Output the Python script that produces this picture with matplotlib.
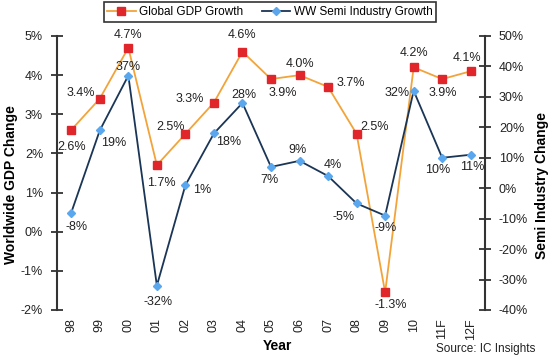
import numpy as np
import matplotlib.pyplot as plt

plt.rcParams['font.family'] = ['Liberation Sans', 'DejaVu Sans']

years = ['98', '99', '00', '01', '02', '03', '04', '05', '06', '07', '08', '09', '10', '11F', '12F']
gdp = [2.6, 3.4, 4.7, 1.7, 2.5, 3.3, 4.6, 3.9, 4.0, 3.7, 2.5, -1.55, 4.2, 3.9, 4.1]
gdp_labels = ['2.6%', '3.4%', '4.7%', '1.7%', '2.5%', '3.3%', '4.6%', '3.9%', '4.0%', '3.7%',
              '2.5%', '-1.3%', '4.2%', '3.9%', '4.1%']
semi = [-8, 19, 37, -32, 1, 18, 28, 7, 9, 4, -5, -9, 32, 10, 11]

# label offsets in pixels (dx, dy) from each point
gdp_off = [(0, -17), (-19, 6), (0, 13), (5, -18), (-15, 7), (-24, 4), (0, 17), (12, -14),
           (0, 11), (23, 4), (18, 7), (6, -13), (0, 14), (1, -14), (-4, 13)]
semi_off = [(5, -14), (14, -13), (0, 9), (1, -16), (17, -5), (15, -9), (1, 8), (-2, -13),
            (-2, 11), (5, 11), (-13, -14), (0, -12), (-17, -2), (-5, -12), (2, -12)]

x = np.arange(len(years))

fig = plt.figure(figsize=(5.5, 3.58), dpi=100)
ax = fig.add_axes([57 / 550, 48 / 358, 428 / 550, 274 / 358])
ax2 = ax.twinx()

l1, = ax.plot(x, gdp, color='#F2A43A', lw=1.3, marker='s', ms=5.5,
              mfc='#E0262B', mec='#E0262B', label='Global GDP Growth')
l2, = ax2.plot(x, semi, color='#1A3556', lw=1.3, marker='D', ms=4.5,
               mfc='#5AA7EE', mec='#5AA7EE', label='WW Semi Industry Growth')

for i in range(len(x)):
    ax.annotate(gdp_labels[i], (x[i], gdp[i]), xytext=gdp_off[i], textcoords='offset pixels',
                ha='center', va='center', fontsize=9, color='#222222')
    ax2.annotate('%d%%' % semi[i], (x[i], semi[i]), xytext=semi_off[i], textcoords='offset pixels',
                 ha='center', va='center', fontsize=9, color='#222222')

ax.set_xlim(-0.5, 14.5)
ax.set_ylim(-2, 5)
ax2.set_ylim(-40, 50)
ax.set_yticks(range(-2, 6))
ax.set_yticklabels(['%d%%' % v for v in range(-2, 6)])
ax2.set_yticks(range(-40, 60, 10))
ax2.set_yticklabels(['%d%%' % v for v in range(-40, 60, 10)])
ax.set_xticks(x)
ax.set_xticklabels(years, rotation=90)

for a in (ax, ax2):
    for s in ('top', 'bottom'):
        a.spines[s].set_visible(False)
    a.tick_params(axis='y', direction='inout', length=8, width=1.3, color='#333333',
                  labelsize=9, labelcolor='#222222')
ax.spines['left'].set_color('#333333')
ax.spines['left'].set_linewidth(1.5)
ax2.spines['right'].set_color('#333333')
ax2.spines['right'].set_linewidth(1.5)
ax2.spines['left'].set_visible(False)
ax.spines['right'].set_visible(False)
ax.tick_params(axis='y', pad=6)
ax2.tick_params(axis='y', pad=6)
ax.tick_params(axis='x', length=0, labelsize=9, labelcolor='#222222', pad=6)

ax.set_ylabel('Worldwide GDP Change', fontsize=10, fontweight='bold')
ax.yaxis.set_label_coords(-0.091, 0.456)
ax2.set_ylabel('Semi Industry Change', fontsize=10, fontweight='bold')
ax2.yaxis.set_label_coords(1.117, 0.456)
ax.set_xlabel('Year', fontsize=10, fontweight='bold')
ax.xaxis.set_label_coords(0.514, -0.106)

fig.text(0.973, 0.025, 'Source: IC Insights', ha='right', va='center', fontsize=8.5, color='#222222')

leg = fig.legend([l1, l2], ['Global GDP Growth', 'WW Semi Industry Growth'], loc='center',
                 bbox_to_anchor=(270 / 550, 1 - 12 / 358), ncol=2, fontsize=8.5, frameon=True,
                 fancybox=False, edgecolor='black', handlelength=2.4, columnspacing=1.6,
                 borderpad=0.3, handletextpad=0.3)
leg.get_frame().set_linewidth(1.2)

fig.savefig('out.png', dpi=100)
